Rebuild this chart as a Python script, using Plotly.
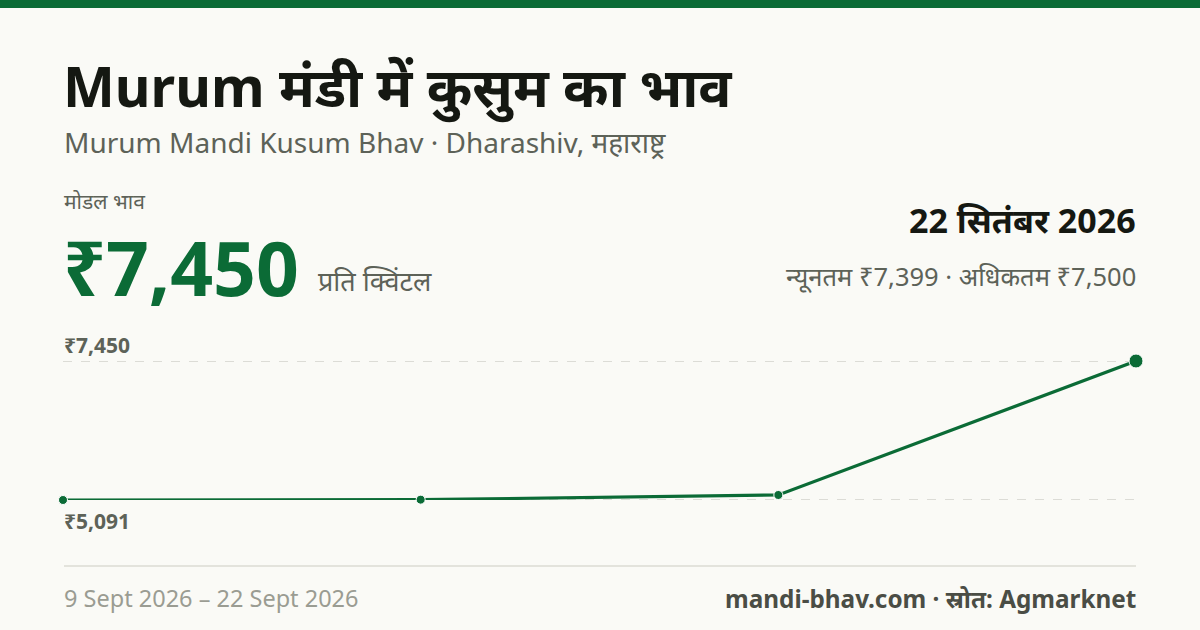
import plotly.graph_objects as go

# data
dates = ["2026-09-09", "2026-09-13", "2026-09-17", "2026-09-22"]
modal_price = [5091, 5097, 5176, 7450]
min_price = 7399
max_price = 7500

GREEN = "#0b6b36"
BG = "#fafaf6"
FONT = "Noto Sans, Noto Sans Devanagari, sans-serif"

W, H = 1200, 630

def px(x):
    return x / W

def py(y):
    return 1 - y / H

lo, hi = min(modal_price), max(modal_price)

fig = go.Figure()

fig.add_trace(go.Scatter(
    x=dates, y=modal_price, mode="lines+markers",
    line=dict(color=GREEN, width=3.2),
    marker=dict(color=GREEN, size=[9, 9, 9, 14], opacity=1),
    cliponaxis=False, hoverinfo="skip", showlegend=False,
))

# dashed reference lines at max and min
for v in (hi, lo):
    fig.add_shape(type="line", xref="paper", yref="y",
                  x0=px(63), x1=px(1136), y0=v, y1=v,
                  line=dict(color="#bdbdb5", width=1.2, dash="dash"), layer="below")

# top bar and footer rule
fig.add_shape(type="rect", xref="paper", yref="paper",
              x0=0, x1=1, y0=py(8), y1=1, fillcolor=GREEN, line_width=0)
fig.add_shape(type="line", xref="paper", yref="paper",
              x0=px(64), x1=px(1136), y0=py(566), y1=py(566),
              line=dict(color="#e3e3dc", width=2))

def note(text, x, y, size, color, bold=False, anchor="left", yanchor="middle"):
    if bold:
        text = "<b>" + text + "</b>"
    fig.add_annotation(text=text, x=px(x), y=py(y), xref="paper", yref="paper",
                       xanchor=anchor, yanchor=yanchor, showarrow=False,
                       font=dict(family=FONT, size=size, color=color))

note("Murum मंडी में कुसुम का भाव", 61, 86, 55, "#151812", bold=True)
note("Murum Mandi Kusum Bhav · Dharashiv, महाराष्ट्र", 62, 142, 28, "#5d6258")
note("मोडल भाव", 62, 201, 21, "#5d6258")
note(f"₹{hi:,}", 61, 267, 75, GREEN, bold=True)
note("प्रति क्विंटल", 316, 280, 27, "#5d6258")
note("22 सितंबर 2026", 1138, 220, 34, "#151812", bold=True, anchor="right")
note(f"न्यूनतम ₹{min_price:,} · अधिकतम ₹{max_price:,}", 1138, 276, 25.5, "#5d6258", anchor="right")

note(f"₹{hi:,}", 62, 345, 21, "#5d6258", bold=True)
note(f"₹{lo:,}", 62, 521, 21, "#5d6258", bold=True)

note("9 Sept 2026 – 22 Sept 2026", 62, 598, 23.5, "#9a9c92")
note("mandi-bhav.com · स्रोत: Agmarknet", 1138, 598, 24.3, "#4a4d45", bold=True, anchor="right")

fig.update_layout(
    width=W, height=H,
    margin=dict(l=0, r=0, t=0, b=0),
    paper_bgcolor=BG, plot_bgcolor=BG,
    xaxis=dict(type="category", domain=[px(63), px(1136)], range=[0, len(dates) - 1],
               visible=False, fixedrange=True),
    yaxis=dict(domain=[py(500), py(361)], range=[lo, hi], visible=False, fixedrange=True),
)

fig.write_html("out.html", config={"displayModeBar": False},
               post_script="document.body.style.margin='0';")
